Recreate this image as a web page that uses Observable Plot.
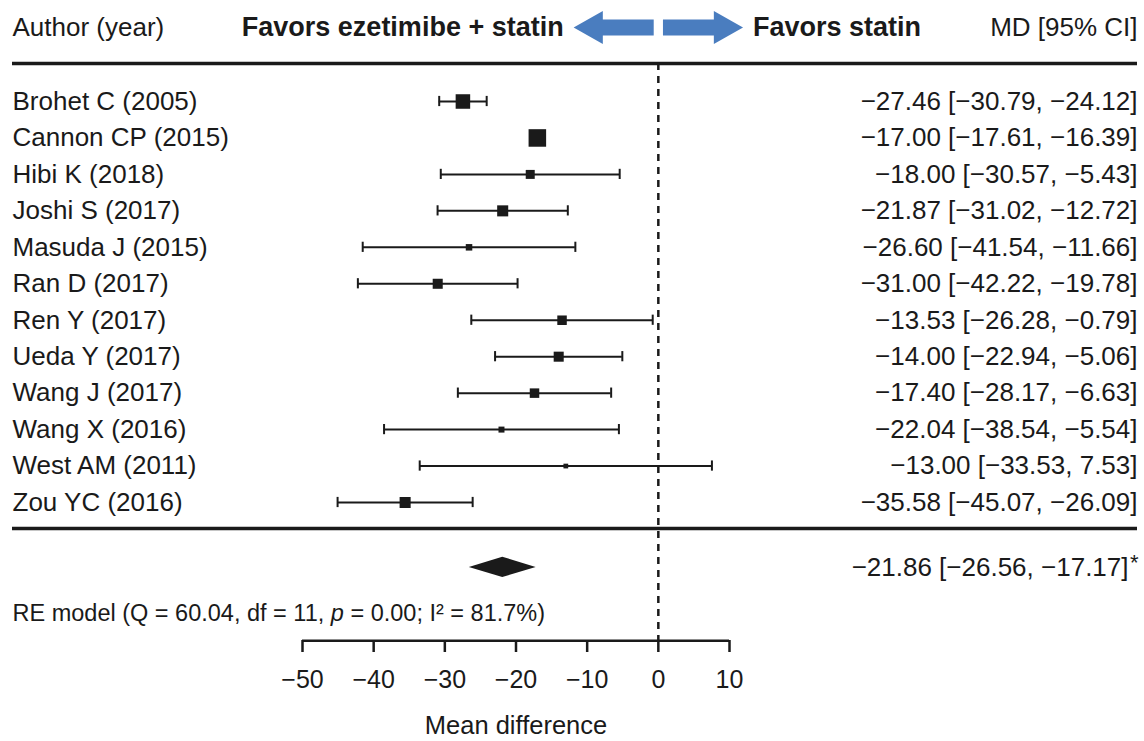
<!DOCTYPE html>
<html>
<head>
<meta charset="utf-8">
<script src="https://cdn.jsdelivr.net/npm/d3@7"></script>
<script src="https://cdn.jsdelivr.net/npm/@observablehq/plot@0.6"></script>
<style>
  body { margin: 0; background: #fff; }
  svg { display: block; }
</style>
</head>
<body>
<div id="chart"></div>
<script>
// ---- Data ----
const studies = ["Brohet C (2005)", "Cannon CP (2015)", "Hibi K (2018)", "Joshi S (2017)",
  "Masuda J (2015)", "Ran D (2017)", "Ren Y (2017)", "Ueda Y (2017)", "Wang J (2017)",
  "Wang X (2016)", "West AM (2011)", "Zou YC (2016)"];
const md     = [-27.46, -17.00, -18.00, -21.87, -26.60, -31.00, -13.53, -14.00, -17.40, -22.04, -13.00, -35.58];
const ciLow  = [-30.79, -17.61, -30.57, -31.02, -41.54, -42.22, -26.28, -22.94, -28.17, -38.54, -33.53, -45.07];
const ciHigh = [-24.12, -16.39,  -5.43, -12.72, -11.66, -19.78,  -0.79,  -5.06,  -6.63,  -5.54,   7.53, -26.09];
const weights = [15.9, 23.2, 6.1, 9.2, 3.2, 7.6, 6.8, 7.6, 6.8, 2.7, 1.7, 9.2]; // % (marker area)
const pooled = [-21.86, -26.56, -17.17]; // estimate, lower, upper
const stats = {Q: "60.04", df: "11", p: "0.00", I2: "81.7"};
const xTicks = [-50, -40, -30, -20, -10, 0, 10];
const headers = ["Author (year)", "Favors ezetimibe + statin", "Favors statin", "MD [95% CI]"];
const axisTitle = "Mean difference";

// ---- Layout (in row units of the y scale) ----
const ROW = {header: -2.03, topRule: -1.04, bottomRule: 11.71, summary: 12.78, stats: 14.04, axis: 14.79, title: 17.12};
const capHalf = 0.14, diamondHalf = 0.28;
const ink = "#1a1a1a", blue = "#4a7dbf";
const fmt = d3.format(".2f");

const rows = studies.map((s, i) => ({
  study: s, i, md: md[i], lo: ciLow[i], hi: ciHigh[i], w: weights[i],
  label: `${fmt(md[i])} [${fmt(ciLow[i])}, ${fmt(ciHigh[i])}]`
}));

const diamond = [
  {x: pooled[1], y1: ROW.summary, y2: ROW.summary},
  {x: pooled[0], y1: ROW.summary - diamondHalf, y2: ROW.summary + diamondHalf},
  {x: pooled[2], y1: ROW.summary, y2: ROW.summary}
];

// block arrows (x in scale units, y in rows)
const tip = 11.9, neck = 7.8, gap = 0.65, headH = 0.45, shaftH = 0.22, hr = ROW.header;
const arrowShape = [[tip, 0], [neck, -headH], [neck, -shaftH], [gap, -shaftH], [gap, shaftH], [neck, shaftH], [neck, headH]];
const arrows = [
  ...arrowShape.map(([x, y]) => ({side: "L", x: -x, y: hr + y})),
  ...arrowShape.map(([x, y]) => ({side: "R", x: x, y: hr + y}))
];

const FONT = "'Liberation Sans', Arial, Helvetica, sans-serif";

const chart = Plot.plot({
  width: 1144,
  height: 741,
  marginLeft: 12,
  marginRight: 7,
  marginTop: 0,
  marginBottom: 101,
  style: {fontFamily: FONT, background: "white", color: ink, overflow: "visible"},
  x: {domain: [-50, 10], range: [302, 729]},
  y: {domain: [0, 11], range: [101, 502], axis: null},
  r: {type: "sqrt", domain: [0, d3.max(weights)], range: [0, 9.9]},
  marks: [
    // horizontal rules
    Plot.ruleY([ROW.topRule, ROW.bottomRule], {stroke: ink, strokeWidth: 3.5}),
    // null line
    Plot.ruleX([0], {y1: ROW.topRule, y2: ROW.axis, stroke: ink, strokeWidth: 2.5, strokeDasharray: "7,6"}),
    // CIs
    Plot.ruleY(rows, {y: "i", x1: "lo", x2: "hi", stroke: ink, strokeWidth: 2}),
    Plot.ruleX(rows, {x: "lo", y1: d => d.i - capHalf, y2: d => d.i + capHalf, stroke: ink, strokeWidth: 2}),
    Plot.ruleX(rows, {x: "hi", y1: d => d.i - capHalf, y2: d => d.i + capHalf, stroke: ink, strokeWidth: 2}),
    Plot.dot(rows, {x: "md", y: "i", r: "w", symbol: "square", fill: ink, stroke: "none"}),
    // pooled diamond
    Plot.areaY(diamond, {x: "x", y1: "y1", y2: "y2", fill: ink}),
    // study labels and estimates
    Plot.text(rows, {frameAnchor: "left", textAnchor: "start", y: "i", text: "study", fontSize: 26}),
    Plot.text(rows, {frameAnchor: "right", textAnchor: "end", y: "i", text: "label", fontSize: 26}),
    Plot.text([`${fmt(pooled[0])} [${fmt(pooled[1])}, ${fmt(pooled[2])}]`], {frameAnchor: "right", textAnchor: "end", y: () => ROW.summary, dx: -9, fontSize: 26}),
    Plot.text(["*"], {frameAnchor: "right", textAnchor: "end", y: () => ROW.summary, dy: -4, dx: 1, fontSize: 22}),
    // header
    Plot.text([headers[0]], {frameAnchor: "left", textAnchor: "start", y: () => hr, fontSize: 26}),
    Plot.text([headers[3]], {frameAnchor: "right", textAnchor: "end", y: () => hr, fontSize: 26}),
    Plot.text([headers[1]], {x: () => -tip - 1.4, y: () => hr, textAnchor: "end", fontSize: 27, fontWeight: "bold"}),
    Plot.text([headers[2]], {x: () => tip + 1.4, y: () => hr, textAnchor: "start", fontSize: 27, fontWeight: "bold"}),
    Plot.line(arrows, {x: "x", y: "y", z: "side", fill: blue, stroke: "none"}),
    // heterogeneity statistics
    Plot.text([`RE model (Q = ${stats.Q}, df = ${stats.df}, p = ${stats.p}; I\u00B2 = ${stats.I2}%)`],
      {frameAnchor: "left", textAnchor: "start", y: () => ROW.stats, fontSize: 23.5, ariaLabel: "re-model"}),
    // x axis
    Plot.ruleY([ROW.axis], {x1: xTicks[0], x2: xTicks[xTicks.length - 1], stroke: ink, strokeWidth: 2.5}),
    Plot.axisX({ticks: xTicks, tickFormat: d3.format("d"), anchor: "bottom", tickSize: 12, tickPadding: 18,
      fontSize: 25, label: null, strokeWidth: 2.5, stroke: ink}),
    Plot.text([axisTitle], {x: () => (xTicks[0] + xTicks[xTicks.length - 1]) / 2, y: () => ROW.title, fontSize: 25.5})
  ]
});

// italicise the "p" in the statistics line
chart.querySelectorAll("text").forEach(t => {
  const s = t.textContent;
  if (s.startsWith("RE model")) {
    const k = s.indexOf(", p = ") + 2;
    t.textContent = "";
    const parts = [[s.slice(0, k), false], ["p", true], [s.slice(k + 1), false]];
    for (const [txt, it] of parts) {
      const ts = document.createElementNS("http://www.w3.org/2000/svg", "tspan");
      ts.textContent = txt;
      if (it) ts.setAttribute("font-style", "italic");
      t.appendChild(ts);
    }
  }
});

document.getElementById("chart").appendChild(chart);
</script>
</body>
</html>
